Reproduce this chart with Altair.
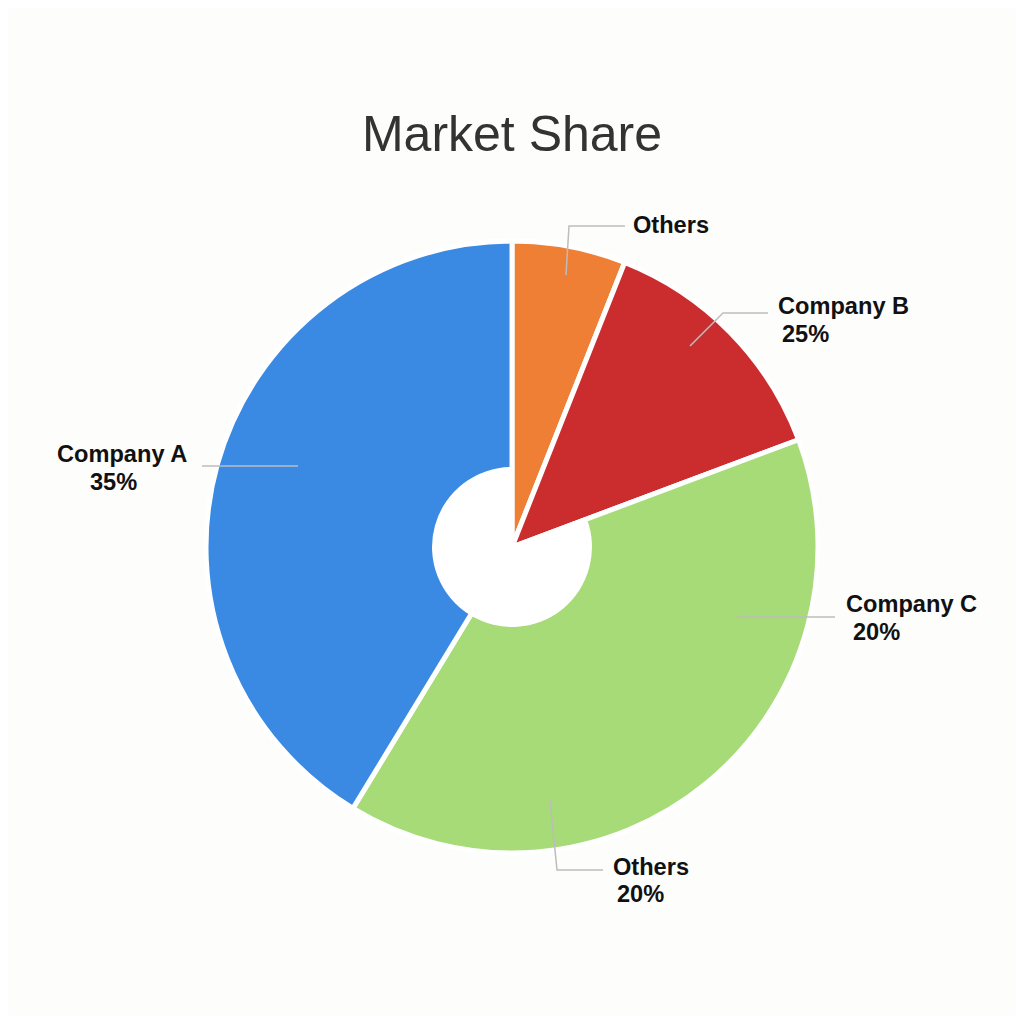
import altair as alt
import pandas as pd

# ---- data ----
slices = ["Others", "Company B", "Company C", "Company A"]   # clockwise from 12 o'clock
shares = [6.0, 13.3, 39.4, 41.3]                              # drawn angular share (%)
colors = ["#EF7F35", "#CB2D2F", "#A6DB78", "#3A89E3"]

label_names = ["Others", "Company B", "Company C", "Others", "Company A"]
label_pcts = ["", "25%", "20%", "20%", "35%"]

# ---- layout (page pixel coordinates) ----
M = 8  # page margin
name_pos = [(633, 226), (778, 307), (846, 605), (613, 868), (57, 455)]
pct_pos = [None, (782, 335), (853, 633), (617, 895), (90, 483)]
leaders = [
    [(566, 275), (569, 226), (625, 226)],
    [(690, 346), (723, 313), (768, 313)],
    [(737, 617), (835, 617)],
    [(550, 800), (557, 870), (603, 870)],
    [(298, 466), (202, 466)],
]
CX, CY = 512 - M, 547 - M
R_OUT, R_HOLE = 306, 80

df = pd.DataFrame({"slice": slices, "share": shares, "order": list(range(len(slices)))})

rows = []
for i, n in enumerate(label_names):
    rows.append({"id": i, "text": n, "x": name_pos[i][0] - M, "y": name_pos[i][1] - M})
    if label_pcts[i] and pct_pos[i] is not None:
        rows.append({"id": i, "text": label_pcts[i], "x": pct_pos[i][0] - M, "y": pct_pos[i][1] - M})
labels_df = pd.DataFrame(rows)

lrows = []
for i, pts in enumerate(leaders):
    for j, (px, py) in enumerate(pts):
        lrows.append({"id": i, "seq": j, "x": px - M, "y": py - M})
lines_df = pd.DataFrame(lrows)

base = alt.Chart(df).encode(
    theta=alt.Theta("share:Q", stack=True),
    order=alt.Order("order:O"),
    x=alt.value(CX),
    y=alt.value(CY),
)

pie = base.mark_arc(radius=R_OUT, stroke="white", strokeWidth=5).encode(
    color=alt.Color("slice:N", scale=alt.Scale(domain=slices, range=colors), legend=None)
)

hole = base.mark_arc(radius=R_HOLE, strokeWidth=0).encode(
    color=alt.condition(
        "datum.slice == 'Company A' || datum.slice == 'Company C'",
        alt.value("white"),
        alt.value("transparent"),
    )
)

leader_lines = alt.Chart(lines_df).mark_line(color="#BDBDBD", strokeWidth=1.5).encode(
    x=alt.X("x:Q", scale=None),
    y=alt.Y("y:Q", scale=None),
    detail="id:N",
    order="seq:O",
)

texts = alt.Chart(labels_df).mark_text(
    align="left", baseline="middle", font="Liberation Sans", fontWeight="bold",
    fontSize=23.6, color="#111111"
).encode(
    x=alt.X("x:Q", scale=None),
    y=alt.Y("y:Q", scale=None),
    text="text:N",
)

title = alt.Chart(pd.DataFrame({"t": ["Market Share"]})).mark_text(
    align="center", baseline="middle", font="Liberation Sans", fontSize=50, color="#333333"
).encode(text="t:N", x=alt.value(512 - M), y=alt.value(136 - M))

chart = alt.layer(pie, hole, leader_lines, texts, title).properties(
    width=1008, height=1008,
    autosize=alt.AutoSizeParams(type="none"),
    padding=0,
    background="#FDFDFB",
).configure_view(stroke=None)

chart.save("out.html", embed_options={"renderer": "svg", "actions": False})
